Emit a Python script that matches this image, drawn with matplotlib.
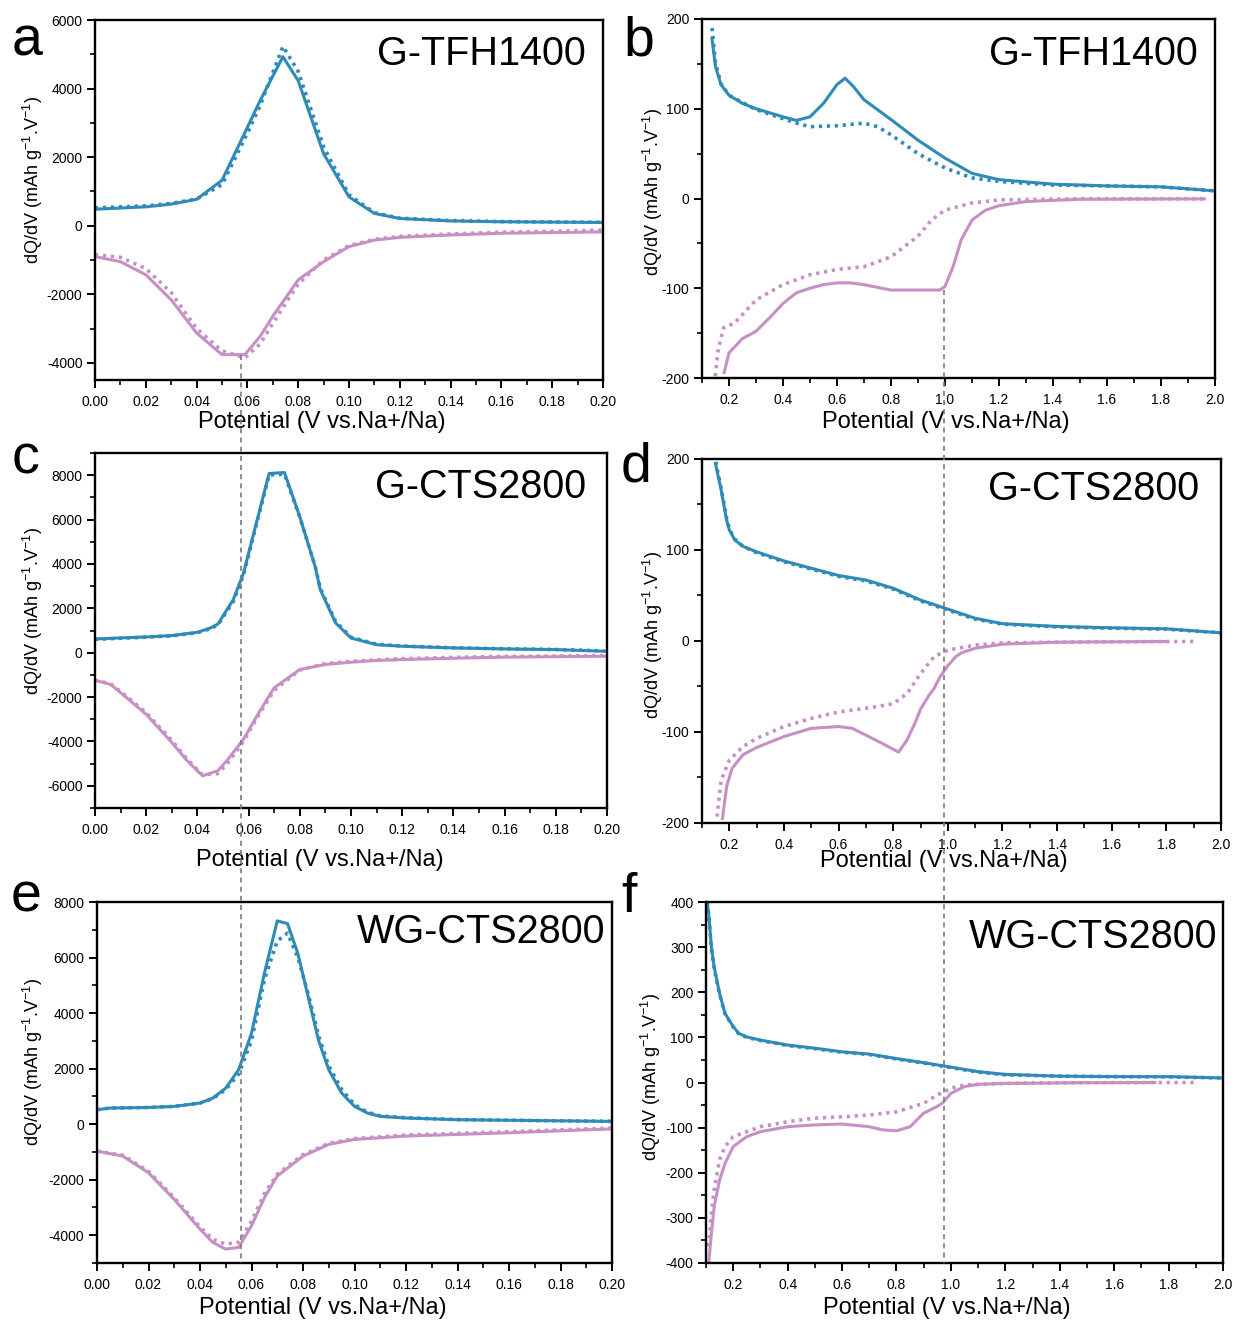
import matplotlib
matplotlib.use('Agg')
import matplotlib.pyplot as plt
from matplotlib.lines import Line2D
from matplotlib.ticker import MultipleLocator, FormatStrFormatter

plt.rcParams['font.family'] = ['Liberation Sans', 'DejaVu Sans']
plt.rcParams['mathtext.fontset'] = 'custom'
plt.rcParams['mathtext.rm'] = 'Liberation Sans'
plt.rcParams['mathtext.it'] = 'Liberation Sans:italic'
plt.rcParams['axes.unicode_minus'] = False

# ---- data ----
# panel a  G-TFH1400, low-voltage region
a_bx = [0, 0.02, 0.03, 0.04, 0.05, 0.06, 0.065, 0.074, 0.08, 0.09, 0.10, 0.11, 0.12, 0.14, 0.16, 0.20]
a_b1 = [480, 550, 630, 770, 1325, 2870, 3650, 4930, 4230, 2100, 840, 360, 210, 140, 115, 95]
a_b2 = [520, 580, 650, 780, 1200, 2700, 3500, 5230, 4500, 2300, 900, 380, 220, 150, 120, 100]
a_px = [0, 0.01, 0.02, 0.03, 0.04, 0.05, 0.059, 0.065, 0.07, 0.08, 0.09, 0.10, 0.11, 0.12, 0.14, 0.16, 0.20]
a_p1 = [-900, -1050, -1430, -2160, -3130, -3760, -3760, -3230, -2640, -1580, -1050, -610, -420, -340, -270, -220, -180]
a_p2 = [-850, -920, -1250, -1950, -3000, -3650, -3850, -3450, -2850, -1700, -1000, -580, -400, -310, -240, -190, -130]

# panel b  G-TFH1400, full range
b_bx1 = [0.137, 0.15, 0.17, 0.2, 0.25, 0.3, 0.4, 0.45, 0.5, 0.55, 0.6, 0.63, 0.66, 0.7, 0.8, 0.9, 1.0, 1.1, 1.2, 1.4, 1.6, 1.8, 2.0]
b_b1 = [178, 147, 127, 115, 106, 100, 91, 87, 91, 106, 127, 134, 125, 110, 88, 65, 45, 28, 21, 16, 14, 13, 8.5]
b_bx2 = [0.137, 0.15, 0.17, 0.2, 0.3, 0.4, 0.45, 0.5, 0.6, 0.7, 0.75, 0.8, 0.9, 1.0, 1.1, 1.2, 1.4, 1.6, 1.8, 2.0]
b_b2 = [190, 151, 128, 115, 99, 89, 84, 80, 81, 84, 80, 71, 50, 34, 23, 19, 15, 14, 13, 8.5]
b_px1 = [0.182, 0.2, 0.25, 0.3, 0.35, 0.4, 0.45, 0.5, 0.55, 0.6, 0.65, 0.7, 0.8, 0.9, 0.98, 1.0, 1.03, 1.06, 1.1, 1.15, 1.2, 1.3, 1.5, 1.96]
b_p1 = [-194, -172, -156, -148, -133, -117, -105, -100, -96, -94, -94, -96, -102, -102, -102, -98, -76, -46, -24, -13, -8, -3.4, -0.8, -0.4]
b_px2 = [0.149, 0.16, 0.18, 0.22, 0.3, 0.4, 0.5, 0.6, 0.7, 0.8, 0.9, 0.95, 1.0, 1.1, 1.2, 1.5, 1.96]
b_p2 = [-198, -168, -144, -139, -113, -96, -85, -79, -76, -65, -42, -24, -13, -5, -1.5, -0.4, -0.4]

# panel c  G-CTS2800, low-voltage region
c_bx = [0, 0.02, 0.03, 0.04, 0.045, 0.048, 0.054, 0.058, 0.062, 0.068, 0.074, 0.08, 0.086, 0.088, 0.094, 0.10, 0.11, 0.12, 0.14, 0.16, 0.18, 0.199]
c_b1 = [620, 710, 770, 920, 1110, 1290, 2390, 3580, 5380, 8075, 8120, 6130, 3880, 2840, 1340, 660, 360, 290, 215, 170, 140, 65]
c_b2 = [600, 700, 760, 900, 1080, 1250, 2300, 3500, 5300, 8000, 8050, 6100, 3900, 2900, 1400, 700, 380, 300, 220, 175, 145, 80]
c_px = [0, 0.006, 0.01, 0.02, 0.03, 0.036, 0.042, 0.048, 0.052, 0.058, 0.064, 0.07, 0.08, 0.09, 0.10, 0.11, 0.12, 0.14, 0.16, 0.20]
c_p1 = [-1240, -1430, -1800, -2780, -4050, -4870, -5550, -5320, -4800, -3900, -2700, -1580, -760, -530, -430, -350, -310, -250, -200, -160]
c_p2 = [-1240, -1400, -1750, -2700, -3950, -4800, -5500, -5450, -4950, -4000, -2800, -1700, -780, -490, -390, -320, -270, -210, -170, -130]

# panel d  G-CTS2800, full range
d_bx = [0.15, 0.17, 0.19, 0.2, 0.22, 0.25, 0.3, 0.4, 0.5, 0.6, 0.7, 0.8, 0.9, 1.0, 1.1, 1.2, 1.4, 1.6, 1.8, 2.0]
d_b1 = [194, 166, 133, 122, 111, 104, 98, 88, 80, 72, 67, 58, 45, 35, 25, 19, 16, 14.5, 13.4, 9]
d_b2 = [197, 168, 135, 123, 112, 104, 97, 87, 79, 71, 66, 57, 44, 34, 24, 18.5, 15.5, 14, 13, 9]
d_px1 = [0.175, 0.19, 0.21, 0.25, 0.3, 0.4, 0.5, 0.6, 0.65, 0.7, 0.75, 0.8, 0.82, 0.85, 0.88, 0.9, 0.93, 0.95, 0.97, 1.0, 1.03, 1.05, 1.1, 1.2, 1.4, 1.8]
d_p1 = [-195, -160, -140, -125, -117, -105, -96, -94, -96, -103.5, -111, -119, -122, -109, -90, -75, -60, -52, -40, -27, -17, -13, -8, -3.5, -1.3, -0.5]
d_px2 = [0.155, 0.17, 0.2, 0.25, 0.3, 0.4, 0.5, 0.6, 0.7, 0.8, 0.85, 0.9, 0.95, 1.0, 1.1, 1.2, 1.5, 1.9]
d_p2 = [-193, -153, -131, -116, -107, -94, -85, -78, -74, -69, -58, -36, -17, -10, -4.5, -2, -1, -0.5]

# panel e  WG-CTS2800, low-voltage region
e_bx = [0, 0.005, 0.02, 0.03, 0.04, 0.045, 0.05, 0.055, 0.06, 0.065, 0.07, 0.074, 0.078, 0.082, 0.086, 0.09, 0.095, 0.10, 0.105, 0.11, 0.12, 0.14, 0.16, 0.20]
e_b1 = [520, 580, 600, 640, 760, 940, 1300, 1960, 3270, 5430, 7320, 7220, 6150, 4590, 3030, 1960, 1120, 640, 400, 280, 220, 160, 140, 100]
e_b2 = [520, 580, 600, 640, 760, 920, 1250, 1800, 3000, 5200, 6600, 6880, 6000, 4700, 3200, 2100, 1250, 700, 430, 300, 230, 165, 140, 100]
e_px = [0, 0.01, 0.02, 0.03, 0.04, 0.045, 0.05, 0.055, 0.06, 0.065, 0.07, 0.08, 0.09, 0.10, 0.12, 0.14, 0.16, 0.20]
e_p1 = [-970, -1150, -1750, -2710, -3780, -4260, -4500, -4440, -3660, -2650, -1870, -1150, -730, -550, -430, -370, -310, -170]
e_p2 = [-970, -1120, -1700, -2650, -3700, -4150, -4320, -4250, -3500, -2500, -1800, -1100, -690, -520, -390, -330, -270, -140]

# panel f  WG-CTS2800, full range
f_bx = [0.105, 0.11, 0.12, 0.13, 0.15, 0.17, 0.2, 0.22, 0.25, 0.3, 0.4, 0.5, 0.6, 0.7, 0.8, 0.9, 1.0, 1.1, 1.2, 1.4, 1.6, 1.8, 2.0]
f_b1 = [396, 374, 300, 256, 197, 153, 124, 109, 101, 94, 83, 76, 68, 63, 53, 44, 34, 24, 18, 14, 13, 13, 10]
f_b2 = [400, 370, 296, 252, 195, 152, 123, 108, 100, 93, 82, 75, 67, 62, 52, 43, 33, 23, 17, 14, 13, 12.5, 10]
f_px1 = [0.11, 0.12, 0.13, 0.15, 0.17, 0.2, 0.25, 0.3, 0.4, 0.5, 0.6, 0.7, 0.75, 0.8, 0.85, 0.9, 0.95, 0.97, 1.0, 1.05, 1.1, 1.2, 1.5, 1.75]
f_p1 = [-400, -334, -275, -216, -179, -142, -120, -109, -98, -94, -92, -98, -105, -107, -98, -68, -53, -45, -24, -9, -4, -2, -0.4, 0]
f_px2 = [0.11, 0.12, 0.13, 0.15, 0.17, 0.2, 0.3, 0.4, 0.5, 0.6, 0.7, 0.8, 0.9, 0.95, 1.0, 1.05, 1.2, 1.5, 1.9]
f_p2 = [-363, -289, -238, -171, -142, -120, -98, -87, -79, -76, -72, -65, -46, -27.5, -13, -5.5, -2, -0.4, 0]

BLUE = '#2e8bb8'
PINK = '#c690c4'
DOT = (0, (0.9, 1.3))

W, H = 1241, 1322
fig = plt.figure(figsize=(W / 100, H / 100), dpi=100)


def rect(x0, y0, x1, y1):
    return [x0 / W, 1 - y1 / H, (x1 - x0) / W, (y1 - y0) / H]


def setup(ax, box, xlim, ylim, xmaj, xmin, ymaj, ymin, xfmt, title, tpos, letter, lpos, xl, yl):
    ax.set_xlim(*xlim)
    ax.set_ylim(*ylim)
    ax.xaxis.set_major_locator(MultipleLocator(xmaj))
    ax.xaxis.set_minor_locator(MultipleLocator(xmin))
    ax.yaxis.set_major_locator(MultipleLocator(ymaj))
    ax.yaxis.set_minor_locator(MultipleLocator(ymin))
    ax.xaxis.set_major_formatter(FormatStrFormatter(xfmt))
    ax.tick_params(which='major', direction='out', length=6, width=1.4, labelsize=10)
    ax.tick_params(axis='x', which='major', pad=5)
    ax.tick_params(axis='y', which='major', pad=3)
    ax.tick_params(which='minor', direction='out', length=3.5, width=1.2)
    for s in ax.spines.values():
        s.set_linewidth(1.7)
    x0, y0, x1, y1 = box
    ax.set_xlabel('Potential (V vs.Na+/Na)', fontsize=17, va='center')
    ax.xaxis.set_label_coords((xl[0] - x0) / (x1 - x0), (y1 - xl[1]) / (y1 - y0))
    ax.set_ylabel('dQ/dV (mAh g$^{-1}$.V$^{-1}$)', fontsize=13, va='center')
    ax.yaxis.set_label_coords((yl[0] - x0) / (x1 - x0), (y1 - yl[1]) / (y1 - y0))
    fig.text(tpos[0] / W, 1 - tpos[1] / H, title, fontsize=28.5, ha='right', va='baseline')
    fig.text(lpos[0] / W, 1 - lpos[1] / H, letter, fontsize=40, ha='left', va='baseline')


def curves(ax, bx1, b1, bx2, b2, px1, p1, px2, p2):
    ax.plot(bx1, b1, color=BLUE, lw=2.2)
    ax.plot(bx2, b2, color=BLUE, lw=2.6, linestyle=DOT)
    ax.plot(px1, p1, color=PINK, lw=2.2)
    ax.plot(px2, p2, color=PINK, lw=2.6, linestyle=DOT)


boxes = {
    'a': (95, 20, 603, 380),
    'b': (702, 19, 1215, 378),
    'c': (95, 453, 607, 808),
    'd': (702, 459, 1221, 823),
    'e': (97, 902, 612, 1263),
    'f': (706, 902, 1223, 1263),
}
axs = {k: fig.add_axes(rect(*v)) for k, v in boxes.items()}

curves(axs['a'], a_bx, a_b1, a_bx, a_b2, a_px, a_p1, a_px, a_p2)
curves(axs['b'], b_bx1, b_b1, b_bx2, b_b2, b_px1, b_p1, b_px2, b_p2)
curves(axs['c'], c_bx, c_b1, c_bx, c_b2, c_px, c_p1, c_px, c_p2)
curves(axs['d'], d_bx, d_b1, d_bx, d_b2, d_px1, d_p1, d_px2, d_p2)
curves(axs['e'], e_bx, e_b1, e_bx, e_b2, e_px, e_p1, e_px, e_p2)
curves(axs['f'], f_bx, f_b1, f_bx, f_b2, f_px1, f_p1, f_px2, f_p2)

setup(axs['a'], boxes['a'], (0, 0.2), (-4500, 6000), 0.02, 0.01, 2000, 1000, '%.2f',
      'G-TFH1400', (586, 65), 'a', (12, 55), (322, 422), (33, 180))
setup(axs['b'], boxes['b'], (0.1, 2.0), (-200, 200), 0.2, 0.1, 100, 50, '%.1f',
      'G-TFH1400', (1198, 65), 'b', (623, 55), (946, 422), (653, 192))
setup(axs['c'], boxes['c'], (0, 0.2), (-7000, 9000), 0.02, 0.01, 2000, 1000, '%.2f',
      'G-CTS2800', (586, 498), 'c', (12, 474), (320, 860), (33, 611))
setup(axs['d'], boxes['d'], (0.1, 2.0), (-200, 200), 0.2, 0.1, 100, 50, '%.1f',
      'G-CTS2800', (1199, 500), 'd', (621, 481), (944, 861), (653, 635))
setup(axs['e'], boxes['e'], (0, 0.2), (-5000, 8000), 0.02, 0.01, 2000, 1000, '%.2f',
      'WG-CTS2800', (605, 943), 'e', (11, 912), (323, 1308), (33, 1062))
setup(axs['f'], boxes['f'], (0.1, 2.0), (-400, 400), 0.2, 0.1, 100, 50, '%.1f',
      'WG-CTS2800', (1217, 948), 'f', (621, 912), (947, 1308), (651, 1077))

# guide lines running down through the columns
inv = fig.transFigure.inverted()
xa, ya = inv.transform(axs['a'].transData.transform((0.0575, -3760)))
_, ye = inv.transform(axs['e'].transAxes.transform((0, 0)))
fig.add_artist(Line2D([xa, xa], [ya, ye], color='#7a7a7a', lw=1.2, linestyle=(0, (3, 2.5))))
xb, yb = inv.transform(axs['b'].transData.transform((0.995, -102)))
_, yf = inv.transform(axs['f'].transAxes.transform((0, 0)))
fig.add_artist(Line2D([xb, xb], [yb, yf], color='#7a7a7a', lw=1.2, linestyle=(0, (3, 2.5))))

fig.savefig('out.png', dpi=100)
